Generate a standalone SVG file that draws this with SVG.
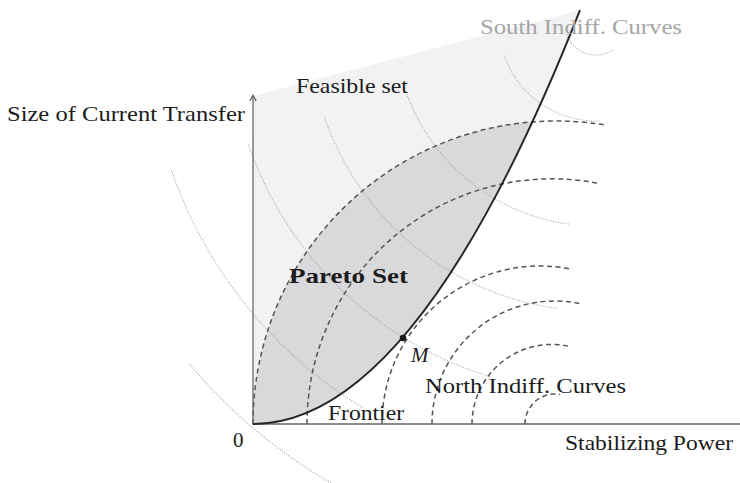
<svg xmlns="http://www.w3.org/2000/svg" width="740" height="483" viewBox="0 0 740 483">
<defs>
<style>
.lbl{font-family:"Liberation Serif","Times New Roman",serif;font-size:21px;fill:#1c1c1c}
.south{fill:none;stroke:#a5a5a5;stroke-width:1.1;stroke-dasharray:1 1.5}
.north{fill:none;stroke:#555;stroke-width:1.5;stroke-dasharray:5 3.5}
.axis{fill:none;stroke:#666;stroke-width:1.3}
</style>
</defs>
<rect width="740" height="483" fill="#fff"/>
<g id="feasible-set">
<path d="M253,424 L253,96 L580,10.2 Q416.5,424 253,424 Z" fill="#f2f2f2"/>
</g>
<g id="pareto-set">
<path d="M253,424 A303,303 0 0 1 532.5,121.8 Q392.7,424 253,424 Z" fill="#d9d9dc"/>
</g>
<g id="connectors">
<g id="south-curves">
<path class="south" d="M189.4,363.9 A530,530 0 0 0 347.2,491.9"/>
<path class="south" d="M171.5,170.2 A449,449 0 0 0 362.7,407.7"/>
<path class="south" d="M248.1,143.8 A368,368 0 0 0 490.2,376.5"/>
<path class="south" d="M324.6,117.4 A287,287 0 0 0 557.1,308.3"/>
<path class="south" d="M405,89 A202,202 0 0 0 570,224.3"/>
<path class="south" d="M504.3,55.6 A97,97 0 0 0 599.4,120.9"/>
<path class="south" d="M566.7,34.1 A31,31 0 0 0 612.9,50"/>
</g>
<g id="north-curves">
<path class="north" d="M253,424 A303,303 0 0 1 605,125"/>
<path class="north" d="M307,424 A245,245 0 0 1 597,183"/>
<path class="north" d="M382,424 A158,158 0 0 1 570,268.9"/>
<path class="north" d="M432,424 A123,123 0 0 1 582,304"/>
<path class="north" d="M472,424 A80,80 0 0 1 568,346"/>
<path class="north" d="M525,424 A30,30 0 0 1 560,394.4"/>
</g>
</g>
<g id="axes">
<line class="axis" x1="253" y1="424" x2="253" y2="96"/>
<path d="M249.8,101 L253,95.2 L256.2,101" fill="none" stroke="#555" stroke-width="1.2"/>
<line class="axis" x1="252.4" y1="424" x2="740" y2="424"/>
</g>
<g id="frontier">
<path d="M253,424 Q416.5,424 580,10.2" fill="none" stroke="#262626" stroke-width="2"/>
</g>
<g id="point-M">
<circle cx="403" cy="338" r="3.3" fill="#1a1a1a"/>
</g>
<g id="labels">
<text class="lbl" x="7" y="121" textLength="238" lengthAdjust="spacingAndGlyphs">Size of Current Transfer</text>
<text class="lbl" x="296" y="93" textLength="112" lengthAdjust="spacingAndGlyphs">Feasible set</text>
<text class="lbl" x="480" y="34" textLength="202" lengthAdjust="spacingAndGlyphs" style="fill:#a5a5a5">South Indiff. Curves</text>
<text class="lbl" x="289" y="283" textLength="119" lengthAdjust="spacingAndGlyphs" font-weight="bold">Pareto Set</text>
<text class="lbl" x="411" y="362" font-style="italic" font-size="22">M</text>
<text class="lbl" x="425" y="393" textLength="201" lengthAdjust="spacingAndGlyphs">North Indiff. Curves</text>
<text class="lbl" x="328" y="420" textLength="76" lengthAdjust="spacingAndGlyphs">Frontier</text>
<text class="lbl" x="233" y="447">0</text>
<text class="lbl" x="565" y="450" textLength="168" lengthAdjust="spacingAndGlyphs">Stabilizing Power</text>
</g>
</svg>
